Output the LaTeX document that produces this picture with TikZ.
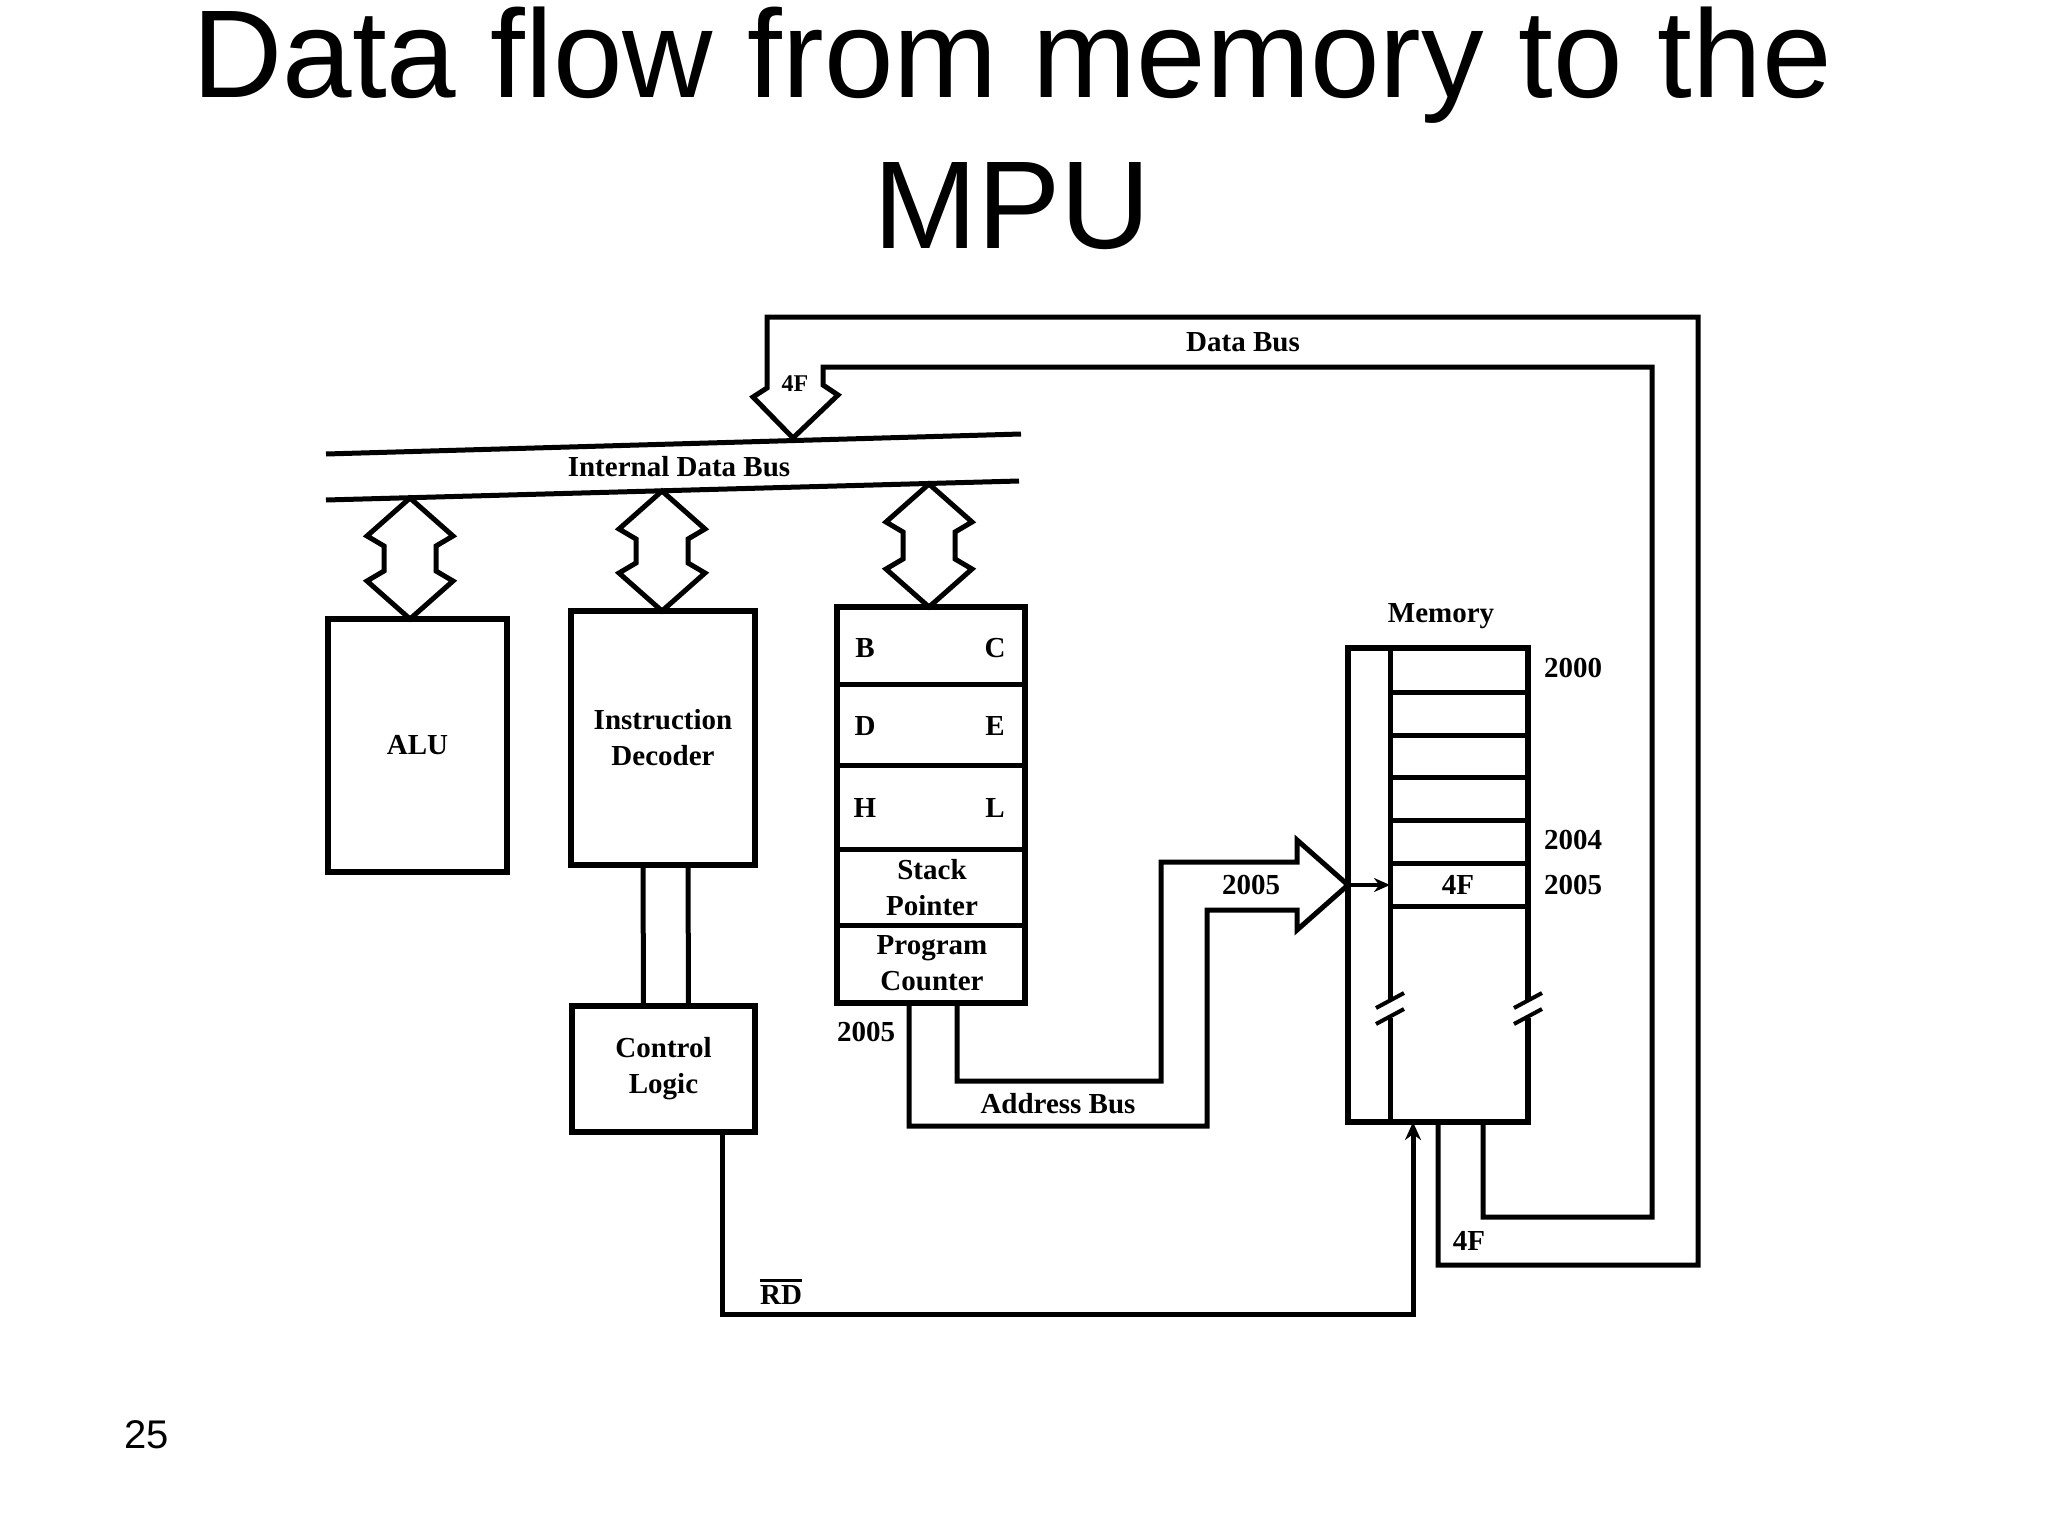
\documentclass[tikz,border=0pt]{standalone}
\usepackage{fontspec}
\setmainfont{Liberation Sans}
\newfontfamily\lblfont{Liberation Serif}
\usetikzlibrary{arrows.meta,calc}
\tikzset{
  ln/.style={line width=5pt},
  box/.style={draw, line width=5.5pt, inner sep=0pt, outer sep=0pt},
  lbl/.style={font=\lblfont\bfseries\fontsize{29}{36}\selectfont, inner sep=0pt, align=center},
  smalllbl/.style={font=\lblfont\bfseries\fontsize{24}{28}\selectfont, inner sep=0pt},
  titletext/.style={font=\fontsize{125}{150}\selectfont, inner sep=0pt, anchor=base},
}
\newcommand{\fatdbl}[3]{%
  \draw[ln, line join=miter] (#1,#2) -- ({#1-43},{#2+38}) -- ({#1-26},{#2+48}) -- ({#1-26},{#3-48}) -- ({#1-43},{#3-38}) -- (#1,#3) -- ({#1+43},{#3-38}) -- ({#1+26},{#3-48}) -- ({#1+26},{#2+48}) -- ({#1+43},{#2+38}) -- cycle;}
\begin{document}
\begin{tikzpicture}[x=1pt,y=-1pt]
\useasboundingbox (0,0) rectangle (2048,1536);
\fill[white] (0,0) rectangle (2048,1536);

% title and page number
\node[titletext] (title1) at (1012,98) {Data flow from memory to the};
\node[titletext] (title2) at (1012,248) {MPU};
\node[font=\fontsize{40}{48}\selectfont, inner sep=0pt, anchor=base west] (pageno) at (124,1448) {25};

% internal data bus
\coordinate (ib1) at (326,454);
\coordinate (ib2) at (1021,434);
\coordinate (ib3) at (326,500);
\coordinate (ib4) at (1019,481);
\draw[ln] (ib1) -- (ib2);
\draw[ln] (ib3) -- (ib4);
\node[lbl] (idblbl) at (679,467) {Internal Data Bus};

% boxes
\node[box, minimum width=179pt, minimum height=253pt] (alu) at (417.5,745.5) {};
\node[lbl] (alulbl) at (alu) {ALU};
\node[box, minimum width=184pt, minimum height=254pt] (idec) at (663,738) {};
\node[lbl] (ideclbl) at (idec) {Instruction\\Decoder};
\node[box, minimum width=183pt, minimum height=126pt] (ctl) at (663.5,1069) {};
\node[lbl] (ctllbl) at (ctl) {Control\\Logic};
\node[box, minimum width=188pt, minimum height=396pt] (regs) at (931,805) {};
\foreach \yy in {684,765,849,925} \draw[ln] (837,\yy) -- (1025,\yy);
\node[lbl] (rB) at (865,648) {B};
\node[lbl] (rC) at (995,648) {C};
\node[lbl] (rD) at (865,726) {D};
\node[lbl] (rE) at (995,726) {E};
\node[lbl] (rH) at (865,808) {H};
\node[lbl] (rL) at (995,808) {L};
\node[lbl] (sp) at (932,888) {Stack\\Pointer};
\node[lbl] (pc) at (932,963) {Program\\Counter};
\node[lbl] (pcval) at (866,1032) {2005};

% bidirectional bus arrows
\fatdbl{410}{498}{619}
\fatdbl{662}{491}{611}
\fatdbl{929}{484}{607}

% decoder to control logic
\draw[ln] ([xshift=-20pt]idec.south) -- ([xshift=-20pt]ctl.north);
\draw[ln] ([xshift=25pt]idec.south) -- ([xshift=25pt]ctl.north);

% memory
\node[box, minimum width=180pt, minimum height=474pt] (mem) at (1438,885) {};
\node[lbl] (memlbl) at (1441,616) {Memory};
\draw[ln] (1390,648) -- (1390,1122);
\foreach \yy in {692,735,777,820,863,906} \draw[ln] (1390,\yy) -- (1528,\yy);
\node[lbl] (m2000) at (1573,668) {2000};
\node[lbl] (m2004) at (1573,840) {2004};
\node[lbl] (m2005) at (1573,885) {2005};
\node[lbl] (m4F) at (1458,885) {4F};
\foreach \xx in {1390,1528} {
  \fill[white] (\xx-5,1000) rectangle (\xx+5,1018);
  \draw[line width=4pt] (\xx-14,1008) -- (\xx+14,993);
  \draw[line width=4pt] (\xx-14,1024) -- (\xx+14,1009);
}
\draw[line width=3.5pt, -{Stealth[length=16pt,width=14pt]}] (mem.west) -- (1390,885);

% address bus
\draw[ln] ([xshift=26pt]regs.south) |- (1161,1081) -- (1161,862) -- (1297,862) -- (1297,840) -- (mem.west);
\draw[ln] ([xshift=-22pt]regs.south) |- (1207,1126) -- (1207,910) -- (1297,910) -- (1297,930) -- (mem.west);
\node[lbl] (abuslbl) at (1058,1104) {Address Bus};
\node[lbl] (abusval) at (1251,885) {2005};

% data bus
\coordinate (dtip) at (793,438);
\draw[ln] (mem.south) -- (1438,1265) -- (1698,1265) -- (1698,317) -- (767,317) -- (767,388) -- (753,397) -- (dtip);
\draw[ln] ([xshift=45pt]mem.south) -- (1483,1217) -- (1652,1217) -- (1652,367) -- (823,367) -- (823,385) -- (838,395) -- (dtip);
\node[lbl] (dbuslbl) at (1243,342) {Data Bus};
\node[smalllbl] (dbusval) at (795,384) {4F};
\node[lbl] (dbusval2) at (1469,1241) {4F};

% read control line
\draw[ln, -{Stealth[length=18pt,width=16pt]}] ([xshift=58.5pt]ctl.south) |- (1413,1314) -- ([xshift=-25pt]mem.south);
\node[lbl] (rdlbl) at (781,1295) {RD};
\draw[line width=2.5pt] ([yshift=5pt]rdlbl.north west) -- ([yshift=5pt]rdlbl.north east);
\end{tikzpicture}
\end{document}
